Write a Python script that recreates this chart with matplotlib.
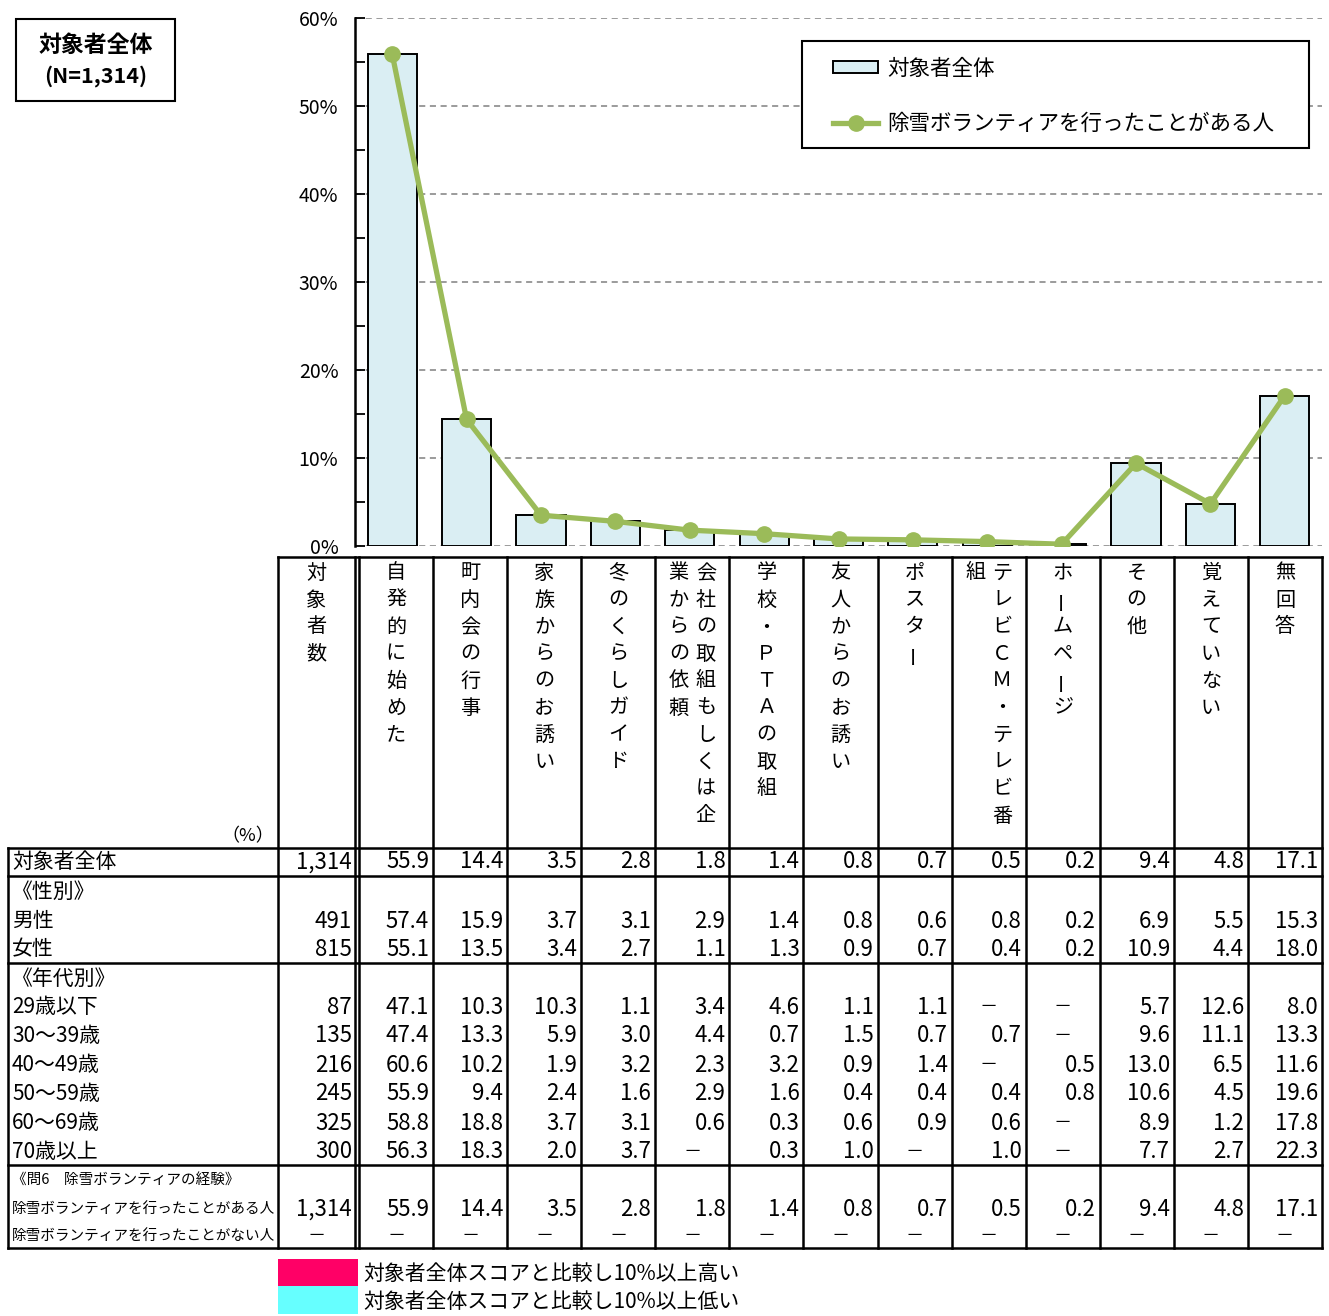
import matplotlib
matplotlib.use("Agg")
import matplotlib.pyplot as plt
from matplotlib.patches import Rectangle
from matplotlib.ticker import MultipleLocator, FuncFormatter

plt.rcParams['font.family'] = ['Noto Sans CJK JP', 'DejaVu Sans']
NUM_FONT = ['Liberation Sans Narrow', 'Noto Sans CJK JP', 'DejaVu Sans']

W, H = 1329, 1316

# ==========================
# Data
# ==========================
categories = ["自発的に始めた", "町内会の行事", "家族からのお誘い", "冬のくらしガイド",
              "会社の取組もしくは企業からの依頼", "学校・ＰＴＡの取組", "友人からのお誘い",
              "ポスター", "テレビＣＭ・テレビ番組", "ホームページ", "その他", "覚えていない", "無回答"]

overall = [55.9, 14.4, 3.5, 2.8, 1.8, 1.4, 0.8, 0.7, 0.5, 0.2, 9.4, 4.8, 17.1]
volunteer_yes = [55.9, 14.4, 3.5, 2.8, 1.8, 1.4, 0.8, 0.7, 0.5, 0.2, 9.4, 4.8, 17.1]
volunteer_no = [None, None, None, None, None, None, None, None, None, None, None, None, None]
male = [57.4, 15.9, 3.7, 3.1, 2.9, 1.4, 0.8, 0.6, 0.8, 0.2, 6.9, 5.5, 15.3]
female = [55.1, 13.5, 3.4, 2.7, 1.1, 1.3, 0.9, 0.7, 0.4, 0.2, 10.9, 4.4, 18.0]
age_29 = [47.1, 10.3, 10.3, 1.1, 3.4, 4.6, 1.1, 1.1, None, None, 5.7, 12.6, 8.0]
age_30 = [47.4, 13.3, 5.9, 3.0, 4.4, 0.7, 1.5, 0.7, 0.7, None, 9.6, 11.1, 13.3]
age_40 = [60.6, 10.2, 1.9, 3.2, 2.3, 3.2, 0.9, 1.4, None, 0.5, 13.0, 6.5, 11.6]
age_50 = [55.9, 9.4, 2.4, 1.6, 2.9, 1.6, 0.4, 0.4, 0.4, 0.8, 10.6, 4.5, 19.6]
age_60 = [58.8, 18.8, 3.7, 3.1, 0.6, 0.3, 0.6, 0.9, 0.6, None, 8.9, 1.2, 17.8]
age_70 = [56.3, 18.3, 2.0, 3.7, None, 0.3, 1.0, None, 1.0, None, 7.7, 2.7, 22.3]

n_overall, n_male, n_female = 1314, 491, 815
n_ages = [87, 135, 216, 245, 325, 300]
n_vol_yes, n_vol_no = 1314, None

# rows of the table: (label, n, values, y-center, kind)
table_rows = [
    ("対象者全体", n_overall, overall, 862, "main"),
    ("《性別》", None, None, 892, "head"),
    ("男性", n_male, male, 921, "main"),
    ("女性", n_female, female, 949, "main"),
    ("《年代別》", None, None, 979, "head"),
    ("29歳以下", n_ages[0], age_29, 1007, "main"),
    ("30～39歳", n_ages[1], age_30, 1036, "main"),
    ("40～49歳", n_ages[2], age_40, 1065, "main"),
    ("50～59歳", n_ages[3], age_50, 1094, "main"),
    ("60～69歳", n_ages[4], age_60, 1123, "main"),
    ("70歳以上", n_ages[5], age_70, 1152, "main"),
    ("《問6　除雪ボランティアの経験》", None, None, 1181, "small"),
    ("除雪ボランティアを行ったことがある人", n_vol_yes, volunteer_yes, 1209, "small"),
    ("除雪ボランティアを行ったことがない人", n_vol_no, volunteer_no, 1236, "small"),
]

fig = plt.figure(figsize=(W / 100, H / 100), dpi=100)

# pixel-coordinate layer for the table and boxes
lay = fig.add_axes([0, 0, 1, 1], zorder=0)
lay.set_xlim(0, W)
lay.set_ylim(H, 0)
lay.axis("off")

# ==========================
# Chart
# ==========================
ax = fig.add_axes([355 / W, 1 - 546 / H, (1322 - 355) / W, (546 - 18) / H], zorder=1)
ax.set_facecolor("none")
xs = list(range(len(categories)))
bars = ax.bar(xs, overall, width=0.66, color="#DAEEF3", edgecolor="black", linewidth=1.4,
              zorder=2, label="対象者全体")
line, = ax.plot(xs, volunteer_yes, color="#9BBB59", lw=3.8, marker="o", ms=11, zorder=3,
                label="除雪ボランティアを行ったことがある人")
ax.set_xlim(-0.5, len(categories) - 0.5)
ax.set_ylim(0, 60)
ax.yaxis.set_major_locator(MultipleLocator(10))
ax.yaxis.set_minor_locator(MultipleLocator(5))
ax.yaxis.set_major_formatter(FuncFormatter(lambda v, p: f"{v:.0f}%"))
ax.tick_params(axis="y", which="both", direction="in", length=7, width=1.3, pad=12,
               labelsize=14, labelfontfamily=NUM_FONT)
ax.set_xticks([])
for s in ["top", "right", "bottom"]:
    ax.spines[s].set_visible(False)
ax.spines["left"].set_linewidth(1.8)
ax.yaxis.grid(True, which="major", linestyle=(0, (4, 3)), color="#808080", lw=1.1)
ax.set_axisbelow(True)

# legend with its own frame
frame = Rectangle((802 / W, 1 - 148 / H), 507 / W, 107 / H, transform=fig.transFigure,
                  facecolor="white", edgecolor="black", lw=1.5, zorder=2)
fig.add_artist(frame)
leg = fig.legend([bars, line], ["対象者全体", "除雪ボランティアを行ったことがある人"],
                 loc="upper left", bbox_to_anchor=(833 / W, 1 - 58 / H),
                 frameon=False, borderpad=0, borderaxespad=0, handlelength=2.1,
                 handleheight=0.5, handletextpad=0.4, labelspacing=1.55, fontsize=15.5,
                 numpoints=1)
leg.set_zorder(3)

# title box
lay.add_patch(Rectangle((16, 19), 159, 82, fill=False, edgecolor="black", lw=1.5))
lay.text(95.5, 45, "対象者全体", ha="center", va="center", fontsize=16.5, fontweight="bold")
lay.text(95.5, 76, "(N=1,314)", ha="center", va="center", fontsize=15.5, fontweight="bold")

# ==========================
# Table
# ==========================
col_left, col_right = 359, 1322
col_w = (col_right - col_left) / len(categories)
edges = [col_left + i * col_w for i in range(len(categories) + 1)]
tlw = 1.8

lay.plot([278, col_right], [557, 557], color="black", lw=tlw)
for yv in [848, 876, 963, 1165, 1248]:
    lay.plot([8, col_right], [yv, yv], color="black", lw=tlw)
lay.plot([8, 8], [848, 1248], color="black", lw=tlw)
for xv in [278, 355] + edges:
    lay.plot([xv, xv], [557, 1248], color="black", lw=tlw)

# vertical header text
def vertical(text, xc, y0=573, pitch=27, size=14.5):
    for k, ch in enumerate(text):
        rot = 90 if ch == "ー" else 0
        lay.text(xc, y0 + k * pitch, ch, ha="center", va="center", fontsize=size, rotation=rot)

vertical("対象者数", 316.5)
for i, cat in enumerate(categories):
    xc = (edges[i] + edges[i + 1]) / 2
    chunks = [cat[j:j + 10] for j in range(0, len(cat), 10)]
    if len(chunks) == 1:
        vertical(chunks[0], xc)
    else:
        vertical(chunks[0], xc + 13.5)
        vertical(chunks[1], xc - 13.5)

lay.text(274, 836, "（%）", ha="right", va="center", fontsize=13)

for label, n, vals, yc, kind in table_rows:
    size = 10.5 if kind == "small" else 15
    lay.text(12, yc, label, ha="left", va="center", fontsize=size)
    if kind == "head" or (kind == "small" and vals is None):
        continue
    if n is None:
        lay.text(316.5, yc, "－", ha="center", va="center", fontsize=13)
    else:
        lay.text(352, yc, f"{n:,}", ha="right", va="center", fontsize=16, family=NUM_FONT)
    for i, v in enumerate(vals):
        if v is None:
            lay.text((edges[i] + edges[i + 1]) / 2, yc, "－", ha="center", va="center",
                     fontsize=13)
        else:
            lay.text(edges[i + 1] - 4, yc, f"{v:.1f}", ha="right", va="center",
                     fontsize=16, family=NUM_FONT)

# highlight legend
lay.add_patch(Rectangle((278, 1259), 80, 27, facecolor="#FF0066", edgecolor="none"))
lay.add_patch(Rectangle((278, 1286), 80, 28, facecolor="#66FFFF", edgecolor="none"))
lay.text(363, 1274, "対象者全体スコアと比較し10%以上高い", ha="left", va="center", fontsize=15)
lay.text(363, 1302, "対象者全体スコアと比較し10%以上低い", ha="left", va="center", fontsize=15)

fig.savefig("out.png", dpi=100)
